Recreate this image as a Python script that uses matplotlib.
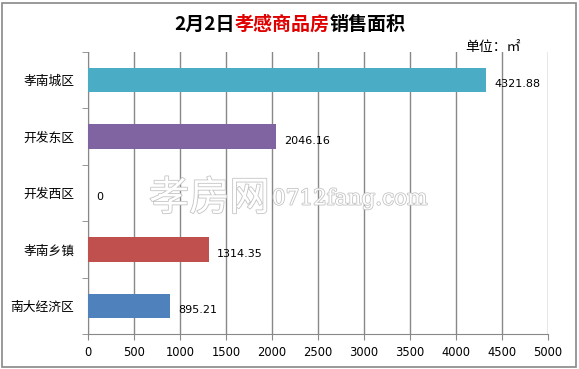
import matplotlib
matplotlib.use("Agg")
import matplotlib.pyplot as plt
from matplotlib.patches import Rectangle
import matplotlib.patheffects as pe

plt.rcParams['font.family'] = ['Noto Sans CJK SC', 'DejaVu Sans']

categories = ["孝南城区", "开发东区", "开发西区", "孝南乡镇", "南大经济区"]
values = [4321.88, 2046.16, 0, 1314.35, 895.21]
value_labels = ["4321.88", "2046.16", "0", "1314.35", "895.21"]
colors = ["#4BACC6", "#8064A2", "#8064A2", "#C0504D", "#4F81BD"]
xticks = [0, 500, 1000, 1500, 2000, 2500, 3000, 3500, 4000, 4500, 5000]

W, H = 579, 369
fig = plt.figure(figsize=(W/100, H/100), dpi=100)
fig.patch.set_facecolor("white")
fig.add_artist(Rectangle((2/W, 2/H), 574/W, 364/H, transform=fig.transFigure,
                         fill=False, edgecolor="#888888", linewidth=1.2))

ax = fig.add_axes([88/W, 1-334/H, 460/W, 282/H])
y = list(range(len(categories)))
ax.barh(y, values, height=0.43, color=colors, zorder=3)
ax.set_ylim(len(categories)-0.5, -0.5)
ax.set_xlim(0, 5000)
ax.set_xticks(xticks)
ax.set_xticklabels([str(t) for t in xticks], fontsize=8.3, family=['DejaVu Sans'])
ax.set_yticks(y)
ax.set_yticklabels(categories, fontsize=9.2)
ax.tick_params(axis='y', length=0, pad=10)
ax.tick_params(axis='x', length=4, color="#888888", pad=5, direction='out')
# minor ticks at category boundaries
ax.set_yticks([i-0.5 for i in range(len(categories)+1)], minor=True)
ax.tick_params(axis='y', which='minor', length=4, color="#888888")
ax.grid(axis='x', color="#888888", linewidth=1, zorder=0)
for s in ['top', 'right']:
    ax.spines[s].set_visible(False)
for s in ['left', 'bottom']:
    ax.spines[s].set_color("#888888")

for i, (v, lab) in enumerate(zip(values, value_labels)):
    ax.annotate(lab, xy=(v, i), xytext=(6, -3), textcoords='offset points',
                ha='left', va='center', fontsize=8, family=['DejaVu Sans'], zorder=5)

# watermark
ax.text(0.395, 0.48, "孝房网", transform=ax.transAxes, ha='right', va='center',
        fontsize=29, color='white', zorder=4,
        path_effects=[pe.withStroke(linewidth=1.2, foreground="#c4c4c4")])
ax.text(0.40, 0.48, "0712fang.com", transform=ax.transAxes, ha='left', va='center',
        fontsize=15.5, color='white', zorder=4, family=['DejaVu Serif'],
        path_effects=[pe.withStroke(linewidth=1.2, foreground="#c4c4c4")])

# unit label
fig.text(465/W, 1-47/H, "单位：㎡", fontsize=10, ha='left', va='center')

# title with coloured middle part
parts = [("2月2日", "black"), ("孝感商品房", "#E00000"), ("销售面积", "black")]
fig.canvas.draw()
renderer = fig.canvas.get_renderer()
texts = []
widths = []
for s, c in parts:
    t = fig.text(0, 1-24.5/H, s, fontsize=13.7, fontweight='bold', color=c, ha='left', va='center')
    texts.append(t)
    widths.append(t.get_window_extent(renderer).width)
total = sum(widths)
x0 = 290 - total/2
for t, w in zip(texts, widths):
    t.set_x(x0/W)
    x0 += w

fig.savefig("out.png", dpi=100)
